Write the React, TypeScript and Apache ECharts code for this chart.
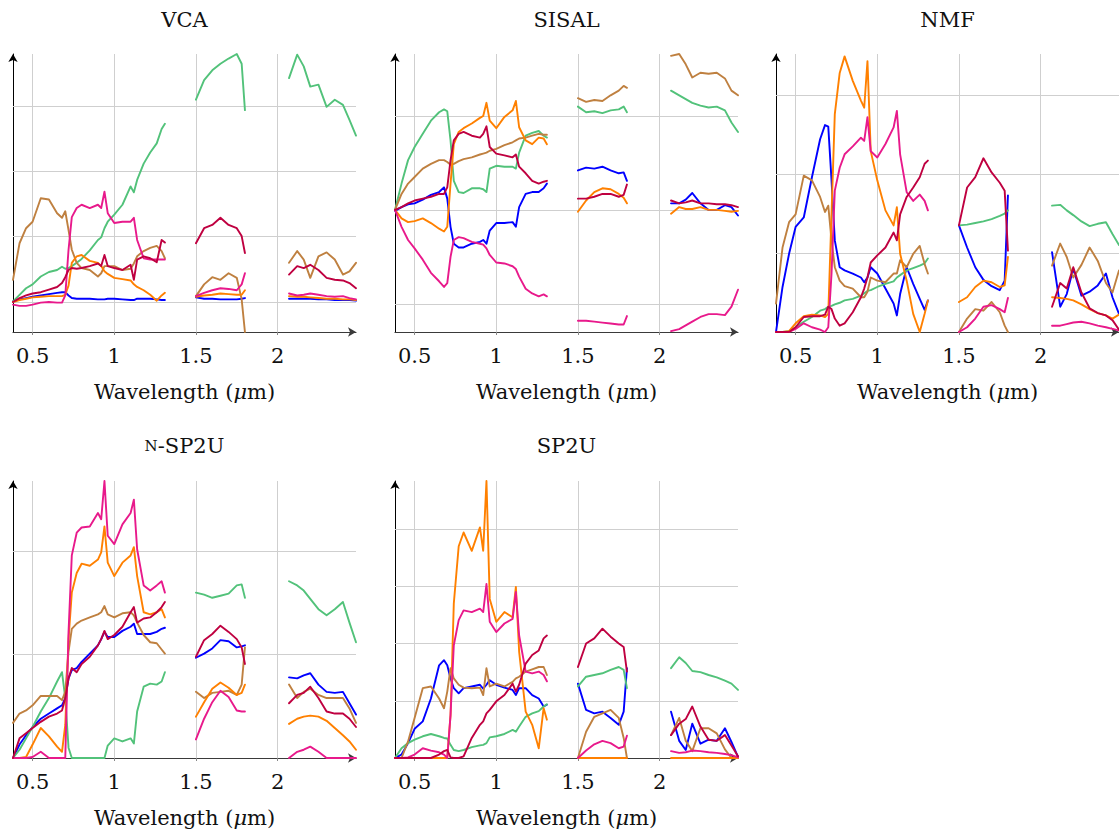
import React, { useEffect, useRef } from "react";
import * as echarts from "echarts";

// Wavelength samples (µm) of the three spectral windows kept after removing water-absorption bands
const WL_VNIR = [0.38, 0.42, 0.46, 0.50, 0.55, 0.60, 0.65, 0.68, 0.70, 0.72, 0.74, 0.77, 0.80, 0.85, 0.90, 0.92, 0.94, 0.96, 1.00, 1.05, 1.10, 1.12, 1.14, 1.18, 1.22, 1.26, 1.29, 1.31];
const WL_SWIR1 = [1.50, 1.55, 1.60, 1.65, 1.70, 1.75, 1.78, 1.80];
const WL_SWIR2 = [2.07, 2.12, 2.16, 2.20, 2.25, 2.30, 2.35, 2.40, 2.44, 2.48];

const X_TICKS = [0.5, 1, 1.5, 2];

// ---- VCA endmembers ----
const VCA_BLUE = [0.001, 0.004, 0.006, 0.008, 0.010, 0.012, 0.014, 0.015, 0.015, 0.010, 0.006, 0.005, 0.005, 0.005, 0.004, 0.004, 0.004, 0.005, 0.005, 0.004, 0.003, 0.003, 0.005, 0.005, 0.005, 0.004, 0.003, 0.003,
  0.007, 0.005, 0.005, 0.004, 0.004, 0.004, 0.005, 0.006,
  0.005, 0.005, 0.005, 0.005, 0.004, 0.004, 0.003, 0.003, 0.003, 0.002];
const VCA_GREEN = [0.001, 0.011, 0.021, 0.027, 0.039, 0.046, 0.049, 0.054, 0.051, 0.052, 0.055, 0.060, 0.066, 0.079, 0.095, 0.099, 0.113, 0.123, 0.134, 0.149, 0.177, 0.168, 0.187, 0.212, 0.229, 0.243, 0.265, 0.273,
  0.310, 0.340, 0.355, 0.365, 0.373, 0.380, 0.365, 0.294,
  0.343, 0.379, 0.361, 0.330, 0.333, 0.299, 0.310, 0.302, 0.279, 0.255];
const VCA_BROWN = [0.034, 0.090, 0.113, 0.123, 0.159, 0.157, 0.136, 0.129, 0.139, 0.110, 0.080, 0.060, 0.052, 0.049, 0.039, 0.044, 0.055, 0.055, 0.055, 0.049, 0.051, 0.059, 0.070, 0.078, 0.083, 0.086, 0.078, 0.067,
  0.009, 0.027, 0.038, 0.034, 0.044, 0.037, 0.004, -0.046,
  0.060, 0.078, 0.065, 0.037, 0.070, 0.076, 0.065, 0.042, 0.047, 0.060];
const VCA_ORANGE = [0.000, 0.003, 0.005, 0.007, 0.008, 0.009, 0.009, 0.009, 0.011, 0.025, 0.060, 0.070, 0.072, 0.063, 0.060, 0.055, 0.047, 0.043, 0.037, 0.035, 0.033, 0.027, 0.023, 0.018, 0.011, 0.002, 0.010, 0.014,
  0.008, 0.010, 0.011, 0.013, 0.012, 0.011, 0.011, 0.018,
  0.009, 0.008, 0.008, 0.007, 0.006, 0.005, 0.005, 0.004, 0.004, 0.003];
const VCA_PINK = [-0.004, -0.006, -0.006, -0.004, -0.001, 0.000, -0.001, -0.001, 0.010, 0.080, 0.130, 0.144, 0.149, 0.144, 0.149, 0.144, 0.169, 0.136, 0.121, 0.123, 0.123, 0.129, 0.095, 0.067, 0.065, 0.065, 0.065, 0.065,
  0.009, 0.014, 0.018, 0.021, 0.020, 0.018, 0.027, 0.044,
  0.013, 0.010, 0.011, 0.013, 0.011, 0.009, 0.008, 0.009, 0.006, 0.004];
const VCA_CRIMSON = [0.000, 0.006, 0.010, 0.013, 0.015, 0.019, 0.023, 0.029, 0.038, 0.049, 0.052, 0.051, 0.052, 0.055, 0.059, 0.055, 0.072, 0.055, 0.052, 0.049, 0.057, 0.034, 0.065, 0.070, 0.067, 0.061, 0.095, 0.091,
  0.090, 0.113, 0.118, 0.129, 0.118, 0.113, 0.101, 0.075,
  0.042, 0.055, 0.052, 0.057, 0.049, 0.037, 0.034, 0.033, 0.029, 0.021];

// ---- SISAL endmembers ----
const SISAL_BLUE = [0.099, 0.103, 0.106, 0.107, 0.111, 0.116, 0.119, 0.124, 0.112, 0.082, 0.064, 0.060, 0.060, 0.064, 0.066, 0.068, 0.064, 0.078, 0.086, 0.086, 0.087, 0.082, 0.103, 0.117, 0.119, 0.119, 0.123, 0.128,
  0.142, 0.145, 0.144, 0.146, 0.142, 0.139, 0.140, 0.131,
  0.107, 0.107, 0.111, 0.118, 0.107, 0.100, 0.100, 0.105, 0.103, 0.094];
const SISAL_GREEN = [0.100, 0.128, 0.153, 0.167, 0.181, 0.195, 0.204, 0.207, 0.205, 0.174, 0.131, 0.119, 0.118, 0.123, 0.123, 0.122, 0.119, 0.144, 0.147, 0.146, 0.146, 0.144, 0.161, 0.179, 0.182, 0.184, 0.179, 0.177,
  0.210, 0.204, 0.205, 0.203, 0.206, 0.207, 0.210, 0.204,
  0.227, 0.222, 0.218, 0.214, 0.211, 0.209, 0.210, 0.206, 0.193, 0.183];
const SISAL_BROWN = [0.100, 0.117, 0.128, 0.135, 0.144, 0.149, 0.153, 0.153, 0.151, 0.148, 0.149, 0.152, 0.154, 0.156, 0.159, 0.160, 0.161, 0.163, 0.165, 0.169, 0.172, 0.174, 0.176, 0.177, 0.179, 0.181, 0.180, 0.180,
  0.219, 0.215, 0.217, 0.216, 0.222, 0.227, 0.232, 0.230,
  0.264, 0.266, 0.255, 0.241, 0.246, 0.245, 0.246, 0.240, 0.227, 0.222];
const SISAL_ORANGE = [0.100, 0.091, 0.087, 0.088, 0.091, 0.086, 0.080, 0.077, 0.082, 0.128, 0.170, 0.183, 0.187, 0.192, 0.198, 0.200, 0.214, 0.195, 0.187, 0.199, 0.206, 0.216, 0.188, 0.174, 0.170, 0.177, 0.176, 0.170,
  0.098, 0.110, 0.119, 0.123, 0.122, 0.117, 0.113, 0.107,
  0.096, 0.103, 0.101, 0.101, 0.103, 0.100, 0.100, 0.099, 0.098, 0.099];
const SISAL_PINK = [0.100, 0.082, 0.068, 0.059, 0.047, 0.033, 0.024, 0.018, 0.022, 0.050, 0.068, 0.071, 0.070, 0.066, 0.064, 0.063, 0.059, 0.052, 0.044, 0.043, 0.040, 0.037, 0.029, 0.016, 0.011, 0.008, 0.010, 0.008,
  -0.018, -0.018, -0.019, -0.020, -0.021, -0.022, -0.022, -0.013,
  -0.029, -0.027, -0.023, -0.019, -0.014, -0.011, -0.011, -0.012, -0.003, 0.015];
const SISAL_CRIMSON = [0.100, 0.103, 0.107, 0.110, 0.112, 0.114, 0.117, 0.117, 0.124, 0.153, 0.174, 0.181, 0.183, 0.179, 0.177, 0.181, 0.189, 0.167, 0.160, 0.158, 0.156, 0.159, 0.146, 0.139, 0.131, 0.128, 0.130, 0.131,
  0.112, 0.112, 0.114, 0.117, 0.117, 0.114, 0.116, 0.127,
  0.110, 0.107, 0.108, 0.110, 0.107, 0.107, 0.106, 0.106, 0.105, 0.103];

// ---- NMF endmembers ----
const NMF_BLUE = [0.000, 0.057, 0.099, 0.133, 0.145, 0.196, 0.244, 0.262, 0.260, 0.192, 0.116, 0.082, 0.078, 0.074, 0.069, 0.063, 0.069, 0.082, 0.074, 0.055, 0.036, 0.021, 0.048, 0.082, 0.061, 0.042, 0.028, 0.040,
  0.135, 0.107, 0.082, 0.066, 0.058, 0.053, 0.065, 0.173,
  0.101, 0.032, 0.048, 0.080, 0.046, 0.051, 0.059, 0.074, 0.044, 0.023];
const NMF_GREEN = [0.000, 0.000, 0.001, 0.006, 0.013, 0.019, 0.027, 0.029, 0.032, 0.033, 0.035, 0.037, 0.040, 0.042, 0.046, 0.049, 0.052, 0.053, 0.057, 0.061, 0.064, 0.069, 0.072, 0.078, 0.081, 0.084, 0.087, 0.093,
  0.135, 0.136, 0.138, 0.140, 0.143, 0.147, 0.150, 0.154,
  0.160, 0.161, 0.154, 0.148, 0.140, 0.134, 0.137, 0.139, 0.124, 0.110];
const NMF_BROWN = [0.036, 0.107, 0.139, 0.149, 0.198, 0.192, 0.171, 0.152, 0.160, 0.116, 0.082, 0.065, 0.058, 0.055, 0.044, 0.044, 0.051, 0.069, 0.065, 0.063, 0.074, 0.074, 0.091, 0.082, 0.099, 0.109, 0.086, 0.074,
  0.000, 0.017, 0.029, 0.027, 0.038, 0.025, 0.008, 0.000,
  0.084, 0.112, 0.095, 0.069, 0.085, 0.107, 0.090, 0.062, 0.050, 0.078];
const NMF_ORANGE = [0.000, 0.000, 0.001, 0.011, 0.020, 0.022, 0.021, 0.019, 0.023, 0.150, 0.276, 0.328, 0.349, 0.318, 0.293, 0.284, 0.343, 0.229, 0.192, 0.154, 0.135, 0.158, 0.099, 0.065, 0.023, 0.000, 0.023, 0.040,
  0.038, 0.044, 0.057, 0.065, 0.063, 0.057, 0.059, 0.095,
  0.044, 0.043, 0.042, 0.040, 0.035, 0.029, 0.024, 0.021, 0.017, 0.022];
const NMF_PINK = [0.000, 0.000, 0.000, 0.004, 0.011, 0.006, 0.003, 0.000, 0.006, 0.074, 0.179, 0.208, 0.225, 0.235, 0.246, 0.242, 0.272, 0.229, 0.221, 0.238, 0.259, 0.280, 0.225, 0.177, 0.166, 0.174, 0.166, 0.154,
  0.000, 0.006, 0.017, 0.032, 0.034, 0.029, 0.025, 0.043,
  0.008, 0.008, 0.010, 0.012, 0.013, 0.011, 0.008, 0.006, 0.004, 0.002];
const NMF_CRIMSON = [0.000, 0.000, 0.000, 0.006, 0.019, 0.020, 0.020, 0.022, 0.032, 0.029, 0.017, 0.008, 0.011, 0.025, 0.044, 0.055, 0.069, 0.088, 0.097, 0.107, 0.126, 0.116, 0.149, 0.171, 0.183, 0.196, 0.213, 0.217,
  0.135, 0.183, 0.196, 0.220, 0.202, 0.189, 0.179, 0.103,
  0.032, 0.062, 0.055, 0.082, 0.050, 0.030, 0.024, 0.021, 0.015, 0.003];

// ---- n-SP2U endmembers ----
const NSP2U_BLUE = [0.000, 0.013, 0.022, 0.030, 0.038, 0.043, 0.048, 0.051, 0.058, 0.077, 0.085, 0.087, 0.093, 0.101, 0.109, 0.115, 0.122, 0.117, 0.117, 0.123, 0.127, 0.130, 0.120, 0.120, 0.120, 0.122, 0.125, 0.126,
  0.097, 0.101, 0.106, 0.114, 0.113, 0.107, 0.108, 0.109,
  0.078, 0.077, 0.080, 0.082, 0.071, 0.064, 0.063, 0.064, 0.053, 0.042];
const NSP2U_GREEN = [0.000, 0.008, 0.019, 0.030, 0.045, 0.058, 0.074, 0.083, 0.058, 0.010, 0.000, 0.000, 0.000, 0.000, 0.000, 0.000, 0.000, 0.012, 0.019, 0.016, 0.019, 0.014, 0.045, 0.069, 0.072, 0.071, 0.074, 0.083,
  0.160, 0.158, 0.155, 0.157, 0.159, 0.167, 0.168, 0.155,
  0.171, 0.167, 0.162, 0.154, 0.144, 0.138, 0.144, 0.151, 0.131, 0.112];
const NSP2U_BROWN = [0.034, 0.043, 0.046, 0.051, 0.060, 0.060, 0.060, 0.056, 0.064, 0.103, 0.125, 0.130, 0.133, 0.136, 0.139, 0.141, 0.147, 0.139, 0.136, 0.140, 0.141, 0.138, 0.131, 0.119, 0.112, 0.111, 0.105, 0.101,
  0.064, 0.058, 0.063, 0.064, 0.065, 0.061, 0.071, 0.107,
  0.071, 0.058, 0.064, 0.067, 0.061, 0.058, 0.058, 0.058, 0.048, 0.034];
const NSP2U_ORANGE = [0.000, 0.000, 0.001, 0.013, 0.029, 0.021, 0.011, 0.006, 0.032, 0.115, 0.160, 0.179, 0.188, 0.186, 0.192, 0.199, 0.224, 0.189, 0.176, 0.189, 0.196, 0.204, 0.176, 0.141, 0.139, 0.141, 0.144, 0.136,
  0.040, 0.054, 0.067, 0.073, 0.068, 0.061, 0.063, 0.071,
  0.033, 0.038, 0.040, 0.041, 0.040, 0.036, 0.029, 0.022, 0.016, 0.008];
const NSP2U_PINK = [0.000, 0.000, 0.000, 0.001, 0.006, 0.000, 0.000, 0.000, 0.000, 0.122, 0.196, 0.218, 0.223, 0.224, 0.237, 0.231, 0.268, 0.215, 0.207, 0.226, 0.237, 0.250, 0.202, 0.167, 0.162, 0.167, 0.171, 0.160,
  0.018, 0.038, 0.054, 0.065, 0.059, 0.046, 0.045, 0.045,
  0.000, 0.006, 0.008, 0.011, 0.006, 0.000, 0.000, 0.000, 0.000, 0.000];
const NSP2U_CRIMSON = [0.000, 0.019, 0.024, 0.029, 0.035, 0.040, 0.043, 0.046, 0.058, 0.077, 0.087, 0.083, 0.091, 0.098, 0.109, 0.115, 0.123, 0.115, 0.119, 0.127, 0.141, 0.146, 0.131, 0.135, 0.136, 0.141, 0.146, 0.151,
  0.098, 0.114, 0.120, 0.128, 0.122, 0.115, 0.107, 0.091,
  0.053, 0.061, 0.063, 0.069, 0.058, 0.045, 0.043, 0.043, 0.038, 0.030];

// ---- SP2U endmembers ----
const SP2U_BLUE = [0.000, 0.006, 0.026, 0.051, 0.064, 0.104, 0.162, 0.171, 0.162, 0.139, 0.122, 0.113, 0.122, 0.125, 0.128, 0.121, 0.128, 0.136, 0.128, 0.123, 0.119, 0.110, 0.122, 0.122, 0.110, 0.104, 0.090, 0.093,
  0.130, 0.084, 0.078, 0.081, 0.070, 0.058, 0.081, 0.157,
  0.081, 0.030, 0.014, 0.060, 0.025, 0.032, 0.030, 0.052, 0.028, 0.002];
const SP2U_GREEN = [0.000, 0.017, 0.026, 0.032, 0.038, 0.042, 0.038, 0.035, 0.034, 0.023, 0.014, 0.012, 0.014, 0.019, 0.022, 0.023, 0.026, 0.036, 0.038, 0.042, 0.049, 0.046, 0.055, 0.072, 0.078, 0.082, 0.090, 0.094,
  0.125, 0.142, 0.145, 0.148, 0.154, 0.159, 0.154, 0.122,
  0.157, 0.176, 0.166, 0.152, 0.150, 0.145, 0.141, 0.135, 0.130, 0.119];
const SP2U_BROWN = [0.000, 0.000, 0.029, 0.070, 0.122, 0.125, 0.104, 0.087, 0.116, 0.157, 0.139, 0.128, 0.123, 0.122, 0.123, 0.110, 0.157, 0.125, 0.130, 0.125, 0.133, 0.139, 0.142, 0.151, 0.155, 0.159, 0.159, 0.145,
  0.000, 0.046, 0.072, 0.078, 0.084, 0.070, 0.035, 0.000,
  0.040, 0.070, 0.030, 0.012, 0.052, 0.052, 0.043, 0.015, 0.000, 0.000];
const SP2U_ORANGE = [0.000, 0.000, 0.000, 0.000, 0.000, 0.000, 0.000, 0.000, 0.000, 0.075, 0.270, 0.370, 0.394, 0.362, 0.403, 0.362, 0.484, 0.278, 0.238, 0.255, 0.246, 0.299, 0.186, 0.081, 0.058, 0.017, 0.087, 0.067,
  0.000, 0.000, 0.000, 0.000, 0.000, 0.000, 0.000, 0.000,
  0.000, 0.000, 0.000, 0.000, 0.000, 0.000, 0.000, 0.000, 0.000, 0.000];
const SP2U_PINK = [0.000, 0.000, 0.001, 0.006, 0.017, 0.013, 0.010, 0.006, 0.000, 0.075, 0.197, 0.241, 0.258, 0.255, 0.261, 0.255, 0.304, 0.238, 0.220, 0.235, 0.243, 0.290, 0.214, 0.151, 0.148, 0.151, 0.145, 0.134,
  0.000, 0.013, 0.024, 0.030, 0.026, 0.017, 0.020, 0.039,
  0.012, 0.009, 0.010, 0.013, 0.012, 0.010, 0.009, 0.007, 0.005, 0.001];
const SP2U_CRIMSON = [0.000, 0.000, 0.000, 0.000, 0.000, 0.000, 0.006, 0.012, 0.014, 0.001, 0.000, 0.000, 0.003, 0.035, 0.058, 0.064, 0.078, 0.084, 0.099, 0.110, 0.130, 0.116, 0.128, 0.165, 0.180, 0.188, 0.209, 0.214,
  0.159, 0.200, 0.209, 0.226, 0.212, 0.200, 0.194, 0.151,
  0.040, 0.060, 0.068, 0.090, 0.055, 0.032, 0.030, 0.040, 0.022, 0.003];

// Horizontal grid levels of each panel
const VCA_GRID_Y = [0, 0.1, 0.2, 0.3];
const SISAL_GRID_Y = [0, 0.1, 0.2];
const NMF_GRID_Y = [0.1, 0.2, 0.3];
const NSP2U_GRID_Y = [0.1, 0.2];
const SP2U_GRID_Y = [0.1, 0.2, 0.3, 0.4];

const COLORS = ["#0000ff", "#52c27a", "#bf8040", "#ff8000", "#e8198b", "#bf0040"];
const FONT = "DejaVu Serif";

type Panel = {
  title: string;
  left: number;
  top: number;
  height: number;
  yMin: number;
  yMax: number;
  gridY: number[];
  lines: number[][];
};

const PANELS: Panel[] = [
  { title: "VCA", left: 13, top: 54, height: 278, yMin: -0.046, yMax: 0.38, gridY: VCA_GRID_Y,
    lines: [VCA_BLUE, VCA_GREEN, VCA_BROWN, VCA_ORANGE, VCA_PINK, VCA_CRIMSON] },
  { title: "SISAL", left: 395, top: 54, height: 278, yMin: -0.03, yMax: 0.266, gridY: SISAL_GRID_Y,
    lines: [SISAL_BLUE, SISAL_GREEN, SISAL_BROWN, SISAL_ORANGE, SISAL_PINK, SISAL_CRIMSON] },
  { title: "NMF", left: 776, top: 54, height: 278, yMin: 0, yMax: 0.352, gridY: NMF_GRID_Y,
    lines: [NMF_BLUE, NMF_GREEN, NMF_BROWN, NMF_ORANGE, NMF_PINK, NMF_CRIMSON] },
  { title: "{sc|N}-SP2U", left: 13, top: 481, height: 277, yMin: 0, yMax: 0.268, gridY: NSP2U_GRID_Y,
    lines: [NSP2U_BLUE, NSP2U_GREEN, NSP2U_BROWN, NSP2U_ORANGE, NSP2U_PINK, NSP2U_CRIMSON] },
  { title: "SP2U", left: 395, top: 481, height: 277, yMin: 0, yMax: 0.484, gridY: SP2U_GRID_Y,
    lines: [SP2U_BLUE, SP2U_GREEN, SP2U_BROWN, SP2U_ORANGE, SP2U_PINK, SP2U_CRIMSON] },
];

const X_MIN = 0.38;
const X_MAX = 2.48;
const PANEL_WIDTH = 343;

// Pair each value with its wavelength, breaking the line between the spectral windows
function spectrum(values: number[]): (number | string)[][] {
  const out: (number | string)[][] = [];
  const windows = [WL_VNIR, WL_SWIR1, WL_SWIR2];
  let k = 0;
  windows.forEach((wl, w) => {
    if (w > 0) {
      const prev = windows[w - 1];
      out.push([(prev[prev.length - 1] + wl[0]) / 2, "-"]);
    }
    wl.forEach((lambda) => {
      out.push([lambda, values[k++]]);
    });
  });
  return out;
}

function buildOption() {
  const grid: any[] = [];
  const xAxis: any[] = [];
  const yAxis: any[] = [];
  const series: any[] = [];
  const graphic: any[] = [];

  PANELS.forEach((p, i) => {
    grid.push({ left: p.left, top: p.top, width: PANEL_WIDTH, height: p.height, containLabel: false });
    xAxis.push({
      gridIndex: i,
      type: "value",
      min: X_MIN,
      max: X_MAX,
      axisLine: {
        show: true,
        onZero: false,
        symbol: ["none", "arrow"],
        symbolSize: [7, 8],
        lineStyle: { color: "#3a3a3a", width: 1.2 },
      },
      axisTick: { show: true, customValues: X_TICKS, length: 3, lineStyle: { color: "#888" } },
      axisLabel: {
        customValues: X_TICKS,
        formatter: (v: number) => String(v),
        fontFamily: FONT,
        fontSize: 21,
        color: "#111",
        margin: 13,
      },
      splitLine: { show: false },
    });
    yAxis.push({
      gridIndex: i,
      type: "value",
      min: p.yMin,
      max: p.yMax,
      axisLine: {
        show: true,
        onZero: false,
        symbol: ["none", "arrow"],
        symbolSize: [7, 8],
        lineStyle: { color: "#000", width: 1 },
      },
      axisTick: { show: false },
      axisLabel: { show: false },
      splitLine: { show: false },
    });

    // grid lines
    series.push({
      type: "line",
      xAxisIndex: i,
      yAxisIndex: i,
      data: [],
      silent: true,
      z: 1,
      markLine: {
        z: 1,
        silent: true,
        symbol: ["none", "none"],
        label: { show: false },
        lineStyle: { color: "#cfcfcf", width: 1, type: "solid" },
        emphasis: { disabled: true },
        data: [
          ...p.gridY.map((v) => ({ yAxis: v })),
          ...X_TICKS.map((v) => ({ xAxis: v })),
        ],
      },
    });

    p.lines.forEach((vals, j) => {
      series.push({
        type: "line",
        xAxisIndex: i,
        yAxisIndex: i,
        data: spectrum(vals),
        showSymbol: false,
        symbol: "none",
        connectNulls: false,
        silent: true,
        z: 3,
        lineStyle: { color: COLORS[j], width: 1.9, join: "round", cap: "round" },
      });
    });

    const cx = p.left + PANEL_WIDTH / 2;
    const row = p.top > 300 ? 1 : 0;
    graphic.push({
      type: "text",
      x: cx,
      y: row ? 446 : 20,
      style: {
        text: p.title,
        fontFamily: FONT,
        fontSize: 21,
        fill: "#111",
        align: "center",
        verticalAlign: "middle",
        textAlign: "center",
        textVerticalAlign: "middle",
        rich: { sc: { fontFamily: FONT, fontSize: 15, fill: "#111" } },
      },
    });
    graphic.push({
      type: "text",
      x: cx,
      y: row ? 818 : 392,
      style: {
        text: "Wavelength ({i|μ}m)",
        fontFamily: FONT,
        fontSize: 21,
        fill: "#111",
        align: "center",
        verticalAlign: "middle",
        textAlign: "center",
        textVerticalAlign: "middle",
        rich: { i: { fontFamily: FONT, fontSize: 21, fontStyle: "italic", fill: "#111" } },
      },
    });
  });

  return {
    animation: false,
    backgroundColor: "#ffffff",
    grid,
    xAxis,
    yAxis,
    series,
    graphic,
  };
}

export default function App() {
  const ref = useRef<HTMLDivElement>(null);
  useEffect(() => {
    if (!ref.current) return;
    const chart = echarts.init(ref.current, null, { renderer: "svg" });
    chart.setOption(buildOption() as any);
    return () => chart.dispose();
  }, []);
  return (
    <div
      ref={ref}
      style={{ position: "absolute", left: 0, top: 0, width: 1119, height: 836, background: "#fff" }}
    />
  );
}
